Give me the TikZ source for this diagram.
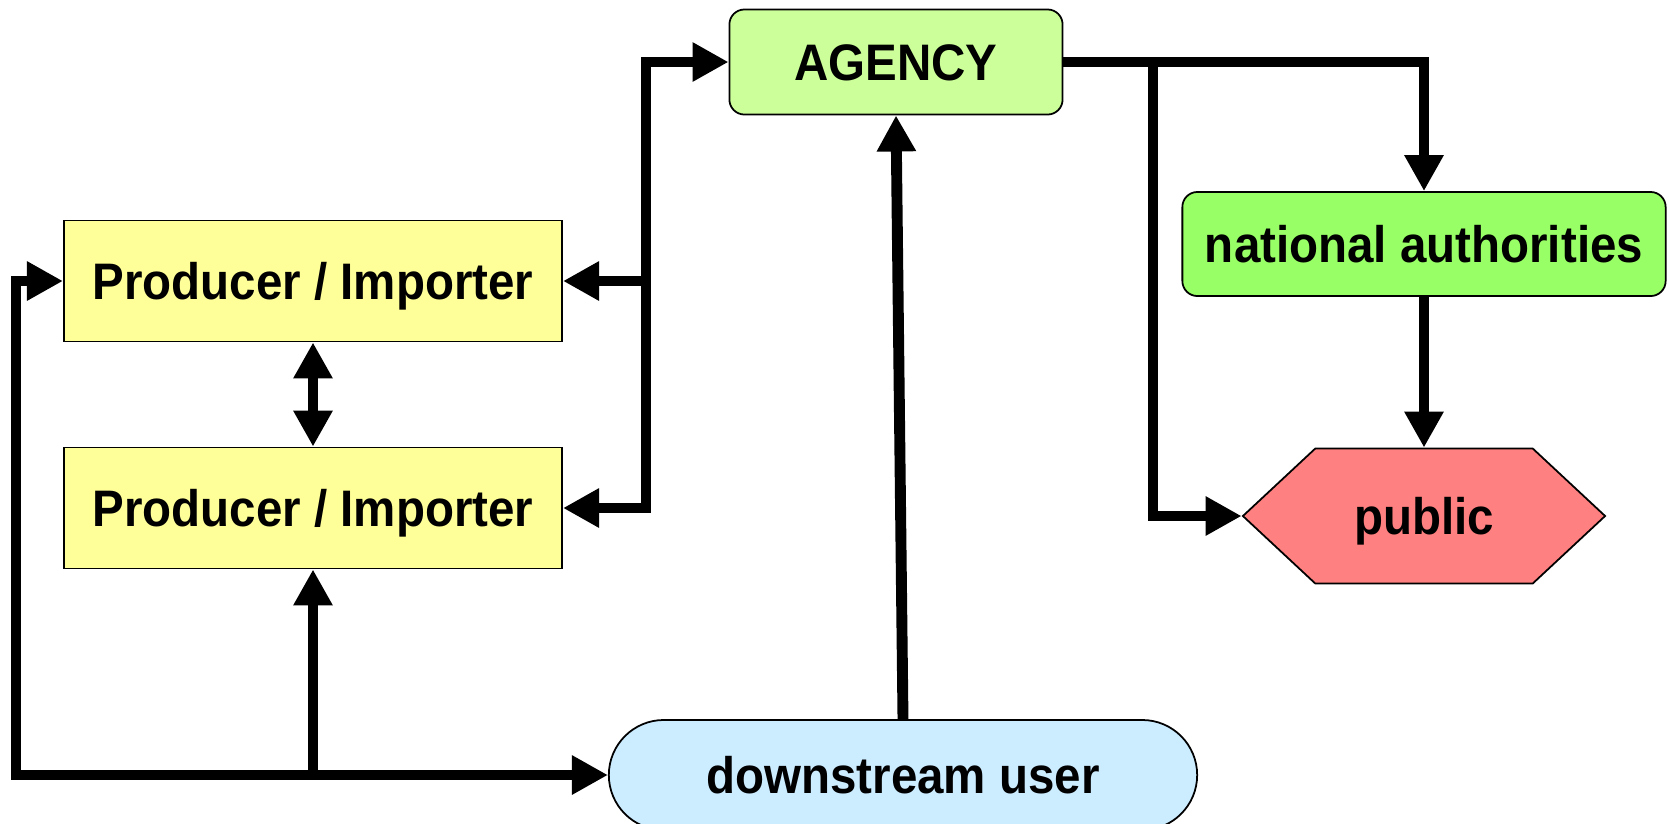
\documentclass[tikz,border=0pt]{standalone}
\usepackage{fontspec}
\setmainfont{Liberation Sans}[FakeStretch=0.925]
\usepackage{tikz}
\usetikzlibrary{arrows.meta,shapes.symbols}

\begin{document}
\begin{tikzpicture}[x=0.01cm,y=-0.01cm,
    box/.style={draw=black,line width=0.5pt,inner sep=0pt,
        text height=10.5pt,text depth=0pt,
        font=\fontsize{14.6}{17}\selectfont\bfseries},
    prodbox/.style={box,fill=prodfill,minimum width=4.98cm,minimum height=1.21cm},
    agencybox/.style={box,fill=agencyfill,rounded corners=0.15cm,
        minimum width=3.33cm,minimum height=1.05cm},
    authbox/.style={box,fill=authfill,rounded corners=0.15cm,
        minimum width=4.83cm,minimum height=1.04cm},
    publicbox/.style={box,fill=publicfill,shape=signal,signal to=east and west,
        signal pointer angle=86,minimum width=3.62cm,minimum height=1.35cm},
    userbox/.style={box,fill=userfill,rounded corners=0.55cm,
        minimum width=5.88cm,minimum height=1.10cm},
    flow/.style={line width=3.1pt,-{Triangle[length=0.36cm,width=0.37cm]}},
    biflow/.style={line width=3.1pt,{Triangle[length=0.36cm,width=0.37cm]}-{Triangle[length=0.36cm,width=0.37cm]}}]
    % Define colors for the parties
    \definecolor{prodfill}{RGB}{255,255,153}
    \definecolor{agencyfill}{RGB}{204,255,153}
    \definecolor{authfill}{RGB}{153,255,102}
    \definecolor{publicfill}{RGB}{255,128,128}
    \definecolor{userfill}{RGB}{204,236,255}

    \useasboundingbox (0,0) rectangle (1669,823);

    % Parties
    \node[prodbox] (prodA) at (313,281) {Producer / Importer};
    \node[prodbox] (prodB) at (313,508) {Producer / Importer};
    \node[agencybox] (agency) at (896,62) {AGENCY};
    \node[authbox] (natauth) at (1424,244) {national authorities};
    \node[publicbox] (public) at (1424,516) {public};
    \node[userbox] (downuser) at (903,775) {downstream user};

    % Trunk lines
    \coordinate (ltrunk) at (16,0);
    \coordinate (rtrunk) at (646,0);
    \coordinate (rbranch) at (1153,0);

    % Flows between the parties
    \draw[biflow] (prodA.west) -| (ltrunk |- downuser.west) -- (downuser.west);
    \draw[flow] (prodB.south |- downuser.west) -- (prodB.south);
    \draw[biflow] (prodA.south) -- (prodB.north);
    \draw[biflow] (agency.west) -| (rtrunk |- prodB.east) -- (prodB.east);
    \draw[flow] (rtrunk |- prodA.east) -- (prodA.east);
    \draw[flow] (downuser.north) -- (agency.south);
    \draw[flow] (agency.east) -| (natauth.north);
    \draw[flow] (rbranch |- agency.east) |- (public.west);
    \draw[flow] (natauth.south) -- (public.north);
\end{tikzpicture}
\end{document}
